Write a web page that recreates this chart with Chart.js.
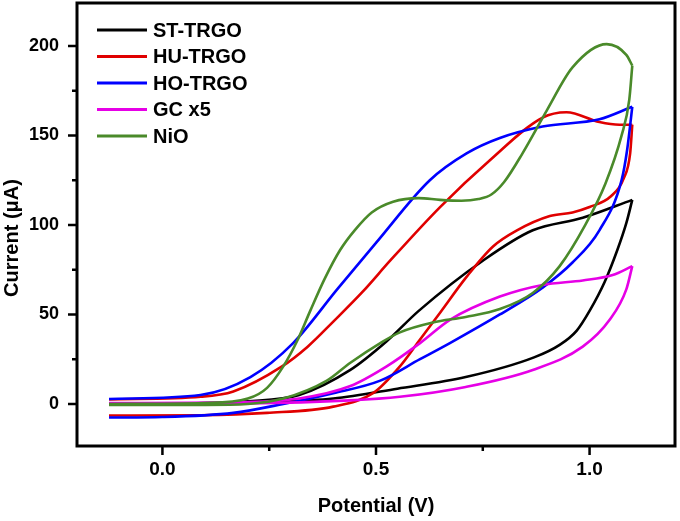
<!DOCTYPE html>
<html>
<head>
<meta charset="utf-8">
<title>CV curves</title>
<script src="https://cdn.jsdelivr.net/npm/chart.js@4"></script>
<style>
    body { margin: 0; background: #fff; }
    #wrap { width: 680px; height: 521px; }
</style>
</head>
<body>
<div id="wrap"><canvas id="cvChart"></canvas></div>
<script>
// Values: potential (V) and current (uA).
// Each loop is split into the forward sweep (to 1.1 V) and the reverse sweep.
const stFwdV = [-0.125, 0.1, 0.25, 0.4, 0.55, 0.71, 0.87, 0.93, 0.97, 1.0, 1.035, 1.065, 1.086, 1.1];
const stFwdI = [0, 0.3, 1, 3, 8.5, 15, 26, 33, 41, 52, 68, 86, 101, 114];
const stRevV = [1.1, 0.984, 0.867, 0.75, 0.6, 0.525, 0.44, 0.32, 0.2, 0.05, -0.125];
const stRevI = [114, 104, 97, 80, 52, 35, 19, 5, 1.5, 0.3, 0];

const huFwdV = [-0.125, 0.09, 0.245, 0.4, 0.493, 0.556, 0.6, 0.65, 0.712, 0.774, 0.83, 0.907, 0.96, 1.0, 1.05, 1.08, 1.095, 1.1];
const huFwdI = [-6.5, -6.3, -5, -1.5, 6, 21, 35, 51, 71, 88, 97, 105, 107, 110, 116, 126, 140, 156];
const huRevV = [1.1, 1.07, 1.023, 0.946, 0.89, 0.766, 0.65, 0.533, 0.47, 0.4, 0.34, 0.28, 0.166, 0.09, -0.125];
const huRevI = [156, 156, 157.5, 163, 160, 136, 110, 80, 63, 46, 32, 21, 7, 4, 2.5];

const hoFwdV = [-0.125, 0.0, 0.166, 0.283, 0.4, 0.51, 0.603, 0.673, 0.79, 0.89, 0.96, 1.023, 1.075, 1.088, 1.1];
const hoFwdI = [-7.6, -7.3, -5, 0, 6, 13, 25, 34, 50, 65, 79, 97, 125, 142, 166];
const hoRevV = [1.1, 1.023, 0.89, 0.79, 0.712, 0.626, 0.5, 0.409, 0.306, 0.206, 0.089, -0.125];
const hoRevI = [166, 159, 155, 148.6, 140, 125, 90, 64, 34, 15, 5, 2.8];

const gcFwdV = [-0.125, 0.2, 0.44, 0.556, 0.71, 0.867, 0.984, 1.047, 1.086, 1.1];
const gcFwdI = [0, 0.3, 2, 4, 9.5, 19, 32, 47, 64, 77];
const gcRevV = [1.1, 1.054, 0.984, 0.89, 0.79, 0.673, 0.603, 0.525, 0.44, 0.32, 0.2, -0.125];
const gcRevI = [77, 72, 69, 66.5, 60, 47, 34, 21, 10, 3, 1, 0.5];

const nioFwdV = [-0.125, 0.1, 0.2, 0.283, 0.385, 0.44, 0.51, 0.556, 0.633, 0.71, 0.79, 0.867, 0.93, 0.99, 1.037, 1.075, 1.093, 1.1];
const nioFwdI = [-0.5, -0.5, 0, 3, 13, 23, 34, 40, 45.5, 48.6, 53, 62, 77, 100, 123, 150, 170, 189];
const nioRevV = [1.1, 1.086, 1.04, 0.96, 0.9, 0.843, 0.8, 0.77, 0.74, 0.7, 0.65, 0.6, 0.54, 0.49, 0.45, 0.416, 0.38, 0.346, 0.315, 0.283, 0.245, 0.2, 0.1, -0.125];
const nioRevI = [189, 195, 201, 188, 164, 140, 124, 117, 114.5, 113.5, 114, 115, 113, 107, 97, 86, 70, 52, 35, 21, 9, 3, 0.5, 0];

const seriesNames = ['ST-TRGO', 'HU-TRGO', 'HO-TRGO', 'GC x5', 'NiO'];
const seriesColors = ['#000000', '#e00000', '#0000ff', '#e600e6', '#4a8a2a'];
const sweeps = [
    [stFwdV, stFwdI, stRevV, stRevI],
    [huFwdV, huFwdI, huRevV, huRevI],
    [hoFwdV, hoFwdI, hoRevV, hoRevI],
    [gcFwdV, gcFwdI, gcRevV, gcRevI],
    [nioFwdV, nioFwdI, nioRevV, nioRevI]
];

const FONT = "'Liberation Sans', Arial, sans-serif";

const toPts = (vs, is) => vs.map((v, i) => ({ x: v, y: is[i] }));

const datasets = [];
seriesNames.forEach((name, k) => {
    const [fv, fi, rv, ri] = sweeps[k];
    [[fv, fi], [rv, ri]].forEach(([v, c]) => {
        datasets.push({
            label: name,
            data: toPts(v, c),
            borderColor: seriesColors[k],
            backgroundColor: seriesColors[k],
            borderWidth: 2.6,
            pointRadius: 0,
            showLine: true,
            fill: false,
            cubicInterpolationMode: 'monotone',
            order: seriesNames.length - 1 - k // NiO ends up on top
        });
    });
});

// frame, outward tick marks, the inset legend and the y title
const decorations = {
    id: 'decorations',
    afterDatasetsDraw(chart) {
        const { ctx, chartArea: a, scales: { x, y } } = chart;
        ctx.save();
        ctx.strokeStyle = '#000';
        ctx.lineWidth = 3;
        ctx.strokeRect(a.left, a.top, a.right - a.left, a.bottom - a.top);

        ctx.lineWidth = 2.5;
        ctx.beginPath();
        x.ticks.forEach(t => {
            const px = x.getPixelForValue(t.value);
            const major = Math.abs(t.value * 2 - Math.round(t.value * 2)) < 1e-6;
            ctx.moveTo(px, a.bottom);
            ctx.lineTo(px, a.bottom + (major ? 9 : 5));
        });
        y.ticks.forEach(t => {
            const py = y.getPixelForValue(t.value);
            const major = t.value % 50 === 0;
            ctx.moveTo(a.left, py);
            ctx.lineTo(a.left - (major ? 9 : 5), py);
        });
        ctx.stroke();

        // legend in the top left corner
        ctx.font = 'bold 20px ' + FONT;
        ctx.textBaseline = 'middle';
        ctx.textAlign = 'left';
        seriesNames.forEach((name, i) => {
            const ly = a.top + 27 + i * 26.5;
            ctx.strokeStyle = seriesColors[i];
            ctx.lineWidth = 3;
            ctx.beginPath();
            ctx.moveTo(a.left + 20, ly);
            ctx.lineTo(a.left + 70, ly);
            ctx.stroke();
            ctx.fillStyle = '#000';
            ctx.fillText(name, a.left + 76, ly + 1);
        });

        // y axis title
        ctx.translate(12.5, 238);
        ctx.rotate(-Math.PI / 2);
        ctx.textAlign = 'center';
        ctx.fillText('Current (\u03bcA)', 0, 0);
        ctx.restore();
    }
};

new Chart(document.getElementById('cvChart'), {
    type: 'scatter',
    data: { datasets: datasets },
    options: {
        responsive: true,
        maintainAspectRatio: false,
        animation: false,
        events: [],
        layout: { padding: { top: 3, right: 5, left: 0, bottom: 0 } },
        plugins: {
            legend: { display: false },
            tooltip: { enabled: false }
        },
        scales: {
            x: {
                type: 'linear',
                min: -0.2,
                max: 1.2,
                afterFit: s => { s.height = 75; s.paddingLeft = 0; s.paddingRight = 0; },
                grid: { display: false, drawTicks: false },
                border: { display: false },
                ticks: {
                    stepSize: 0.25,
                    includeBounds: false,
                    padding: 12,
                    color: '#000',
                    font: { family: FONT, size: 19, weight: 'bold' },
                    autoSkip: false,
                    maxRotation: 0,
                    callback: v => (Math.abs(v * 2 - Math.round(v * 2)) < 1e-6 ? v.toFixed(1) : '')
                },
                title: {
                    display: true,
                    text: 'Potential (V)',
                    color: '#000',
                    padding: { top: 0, bottom: 3 },
                    font: { family: FONT, size: 20, weight: 'bold' }
                }
            },
            y: {
                type: 'linear',
                min: -23.5,
                max: 224,
                afterFit: s => { s.width = 77; s.paddingTop = 0; s.paddingBottom = 0; },
                grid: { display: false, drawTicks: false },
                border: { display: false },
                ticks: {
                    stepSize: 25,
                    includeBounds: false,
                    padding: 18,
                    color: '#000',
                    font: { family: FONT, size: 18, weight: 'bold' },
                    autoSkip: false,
                    callback: v => (v % 50 === 0 ? String(v) : '')
                },
                title: { display: false }
            }
        }
    },
    plugins: [decorations]
});
</script>
</body>
</html>
